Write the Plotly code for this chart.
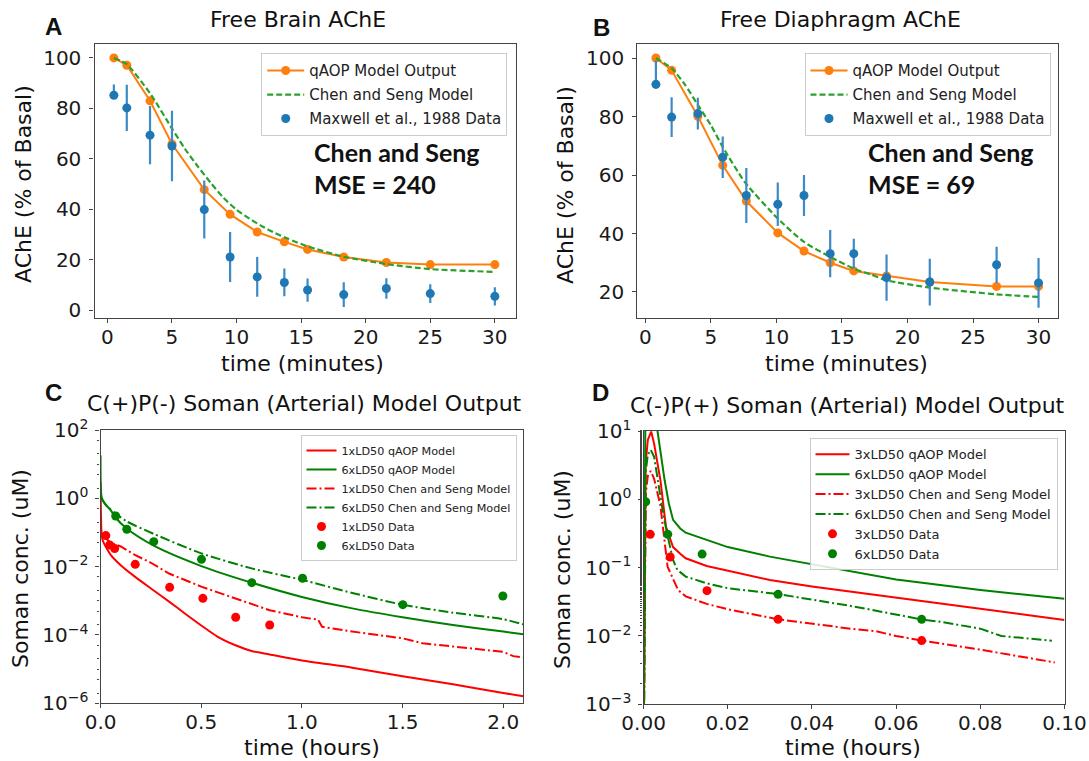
import plotly.graph_objects as go

# ---------------- Panel A : Free Brain AChE ----------------
timeA = [0.5, 1.5, 3.3, 5.0, 7.5, 9.5, 11.6, 13.7, 15.5, 18.3, 21.6, 25.0, 30.0]
qaopA = [100, 97.1, 83.0, 65.9, 47.8, 38.0, 31.0, 27.1, 24.1, 21.1, 18.9, 18.1, 18.1]
dataA = [85.2, 80.2, 69.4, 65.1, 39.9, 21.1, 13.2, 11.0, 8.0, 6.2, 8.6, 6.6, 5.5]
errA_up = [4.3, 9.2, 11.5, 14.0, 11.5, 9.9, 7.9, 5.5, 4.6, 4.9, 4.1, 3.7, 3.6]
errA_dn = [1.2, 9.2, 11.5, 14.0, 11.5, 9.9, 7.9, 5.5, 4.6, 4.9, 4.1, 3.7, 3.6]
chenA_t = [0.5, 1.5, 3.3, 5.0, 6.0, 7.0, 8.0, 9.0, 10.0, 11.0, 12.0, 13.0, 14.0, 15.5, 18.3, 21.6, 25.0, 30.0]
chenA = [100, 97.5, 86, 72, 64, 57, 50.5, 44.5, 39.8, 36.3, 33.2, 30.5, 28.3, 25.3, 21.2, 18.3, 16.3, 15.2]

# ---------------- Panel B : Free Diaphragm AChE ----------------
timeB = [0.8, 2.0, 4.0, 5.9, 7.7, 10.1, 12.1, 14.1, 15.9, 18.4, 21.7, 26.8, 30.0]
qaopB = [100, 95.8, 80.1, 63.3, 51.1, 40.2, 34.0, 30.0, 27.2, 25.5, 23.4, 21.9, 21.9]
dataB = [91.0, 79.8, 81.0, 66.1, 53.0, 50.0, 53.0, 33.1, 33.1, 24.9, 23.4, 29.3, 23.1]
errB_up = [8.2, 6.8, 5.4, 7.1, 9.4, 7.4, 7.0, 8.1, 5.1, 7.9, 8.0, 6.2, 8.5]
errB_dn = [1.5, 6.8, 5.4, 7.1, 9.4, 7.4, 7.0, 8.1, 5.1, 7.9, 8.0, 6.2, 8.5]
chenB_t = [0.8, 2.0, 3.0, 4.0, 5.0, 5.9, 7.6, 10.1, 12.1, 14.1, 15.9, 17.2, 18.4, 21.7, 26.8, 30.0]
chenB = [100, 96.5, 91, 84, 77, 69.6, 57.5, 45.1, 37.1, 32.0, 28.0, 26.0, 24.0, 21.5, 19.2, 18.3]

# ---------------- Panel C : C(+)P(-) Soman ----------------
c_q6_t = [0, 0.005, 0.02, 0.05, 0.075, 0.13, 0.264, 0.5, 0.75, 1.0, 1.25, 1.5, 1.75, 2.0, 2.1]
c_q6 = [18, 1.1, 0.71, 0.45, 0.27, 0.13, 0.041, 0.0104, 0.0034, 0.0013, 0.0006, 0.00033, 0.000195, 0.000126, 0.000105]
c_c6_t = [0.003, 0.03, 0.075, 0.13, 0.264, 0.5, 0.75, 1.0, 1.25, 1.5, 1.75, 2.0, 2.1]
c_c6 = [1.0, 0.6, 0.36, 0.21, 0.091, 0.0245, 0.0089, 0.0041, 0.0017, 0.00077, 0.00045, 0.00029, 0.000204]
c_q1_t = [0, 0.004, 0.01, 0.05, 0.1, 0.17, 0.25, 0.34, 0.42, 0.5, 0.58, 0.67, 0.75, 0.84, 1.0, 1.25, 1.5, 1.75, 2.0, 2.1]
c_q1 = [3.0, 0.12, 0.06, 0.022, 0.011, 0.0051, 0.0023, 0.00095, 0.00042, 0.00019, 9e-5, 5e-5, 3.4e-5, 2.7e-5, 1.8e-5, 1.1e-5, 6.2e-6, 3.6e-6, 2.0e-6, 1.6e-6]
c_c1_t = [0.01, 0.05, 0.1, 0.17, 0.25, 0.34, 0.5, 0.67, 0.84, 1.0, 1.08, 1.1, 1.25, 1.5, 1.6, 1.75, 2.0, 2.05, 2.1]
c_c1 = [0.08, 0.05, 0.039, 0.022, 0.013, 0.0063, 0.0026, 0.00117, 0.00053, 0.00033, 0.00028, 0.000174, 0.000126, 8e-5, 5.7e-5, 4.6e-5, 3.2e-5, 2.4e-5, 2.2e-5]
c_d1_t = [0.026, 0.045, 0.070, 0.172, 0.343, 0.508, 0.671, 0.840]
c_d1 = [0.081, 0.043, 0.034, 0.0117, 0.00248, 0.00118, 0.00033, 0.000196]
c_d6_t = [0.075, 0.130, 0.264, 0.501, 0.751, 1.003, 1.501, 1.998]
c_d6 = [0.304, 0.124, 0.054, 0.0164, 0.0034, 0.00456, 0.00077, 0.00138]

# ---------------- Panel D : C(-)P(+) Soman ----------------
d_q3_t = [0, 0.0005, 0.001, 0.0018, 0.0025, 0.004, 0.0053, 0.007, 0.0087, 0.01, 0.015, 0.02, 0.03, 0.04, 0.06, 0.08, 0.1]
d_q3 = [1e-4, 3.4, 7.4, 9.8, 6.5, 1.9, 0.4, 0.2, 0.16, 0.137, 0.106, 0.09, 0.066, 0.053, 0.036, 0.025, 0.0171]
d_q6_t = [0, 0.0004, 0.002, 0.0033, 0.005, 0.006, 0.007, 0.0087, 0.01, 0.015, 0.02, 0.03, 0.04, 0.06, 0.08, 0.1]
d_q6 = [1e-4, 10, 30, 10, 1.9, 0.87, 0.5, 0.375, 0.325, 0.254, 0.2, 0.145, 0.112, 0.067, 0.047, 0.035]
d_c3_t = [0, 0.0005, 0.001, 0.0017, 0.0025, 0.004, 0.0057, 0.0082, 0.01, 0.015, 0.02, 0.032, 0.05, 0.055, 0.06, 0.066, 0.08, 0.0977]
d_c3 = [1e-4, 1.2, 2.2, 2.6, 2.0, 0.8, 0.103, 0.047, 0.038, 0.0295, 0.0246, 0.0175, 0.0126, 0.0118, 0.0100, 0.0086, 0.0063, 0.0041]
d_c6_t = [0, 0.0005, 0.001, 0.0017, 0.0025, 0.0045, 0.0057, 0.007, 0.008, 0.01, 0.015, 0.02, 0.032, 0.05, 0.066, 0.07, 0.08, 0.085, 0.097]
d_c6 = [1e-4, 2.5, 4.5, 5.3, 4.2, 0.7, 0.29, 0.13, 0.093, 0.074, 0.059, 0.05, 0.041, 0.027, 0.0175, 0.0163, 0.0128, 0.01, 0.0085]
d_d3_t = [0.00158, 0.00632, 0.01506, 0.03195, 0.06606]
d_d3 = [0.307, 0.143, 0.046, 0.0175, 0.00855]
d_d6_t = [0.0005, 0.00574, 0.0139, 0.03195, 0.06606]
d_d6 = [0.92, 0.307, 0.158, 0.0407, 0.0175]

logC_ticks = [1e-6, 1e-4, 1e-2, 1, 1e2]
logC_text = ["10<sup>\u22126</sup>", "10<sup>\u22124</sup>", "10<sup>\u22122</sup>", "10<sup>0</sup>", "10<sup>2</sup>"]
logD_ticks = [1e-3, 1e-2, 1e-1, 1, 10]
logD_text = ["10<sup>\u22123</sup>", "10<sup>\u22122</sup>", "10<sup>\u22121</sup>", "10<sup>0</sup>", "10<sup>1</sup>"]

ORANGE = "#ff7f0e"
GREEN_T = "#2ca02c"
BLUE = "#1f77b4"
RED = "#ff0000"
GREEN = "#008000"
FONT = "DejaVu Sans"
W, H = 1089, 761


def px(x):
    return x / W


def py(y):
    return 1 - y / H


fig = go.Figure()

# Panel A
fig.add_trace(go.Scatter(x=timeA, y=qaopA, mode="lines+markers", name="qAOP Model Output",
                         line=dict(color=ORANGE, width=2), marker=dict(color=ORANGE, size=9),
                         xaxis="x", yaxis="y", legend="legend", legendgroup="a1"))
fig.add_trace(go.Scatter(x=chenA_t, y=chenA, mode="lines", name="Chen and Seng Model",
                         line=dict(color=GREEN_T, width=2.2, dash="6px,3px", shape="spline", smoothing=0.6),
                         xaxis="x", yaxis="y", legend="legend", legendgroup="a2"))
fig.add_trace(go.Scatter(x=timeA, y=dataA, mode="markers", name="Maxwell et al., 1988 Data",
                         marker=dict(color=BLUE, size=9),
                         error_y=dict(type="data", symmetric=False, array=errA_up, arrayminus=errA_dn,
                                      width=0, thickness=2.2, color="#3d8ac6"),
                         xaxis="x", yaxis="y", legend="legend", legendgroup="a3"))

# Panel B
fig.add_trace(go.Scatter(x=timeB, y=qaopB, mode="lines+markers", name="qAOP Model Output",
                         line=dict(color=ORANGE, width=2), marker=dict(color=ORANGE, size=9),
                         xaxis="x2", yaxis="y2", legend="legend2", legendgroup="b1"))
fig.add_trace(go.Scatter(x=chenB_t, y=chenB, mode="lines", name="Chen and Seng Model",
                         line=dict(color=GREEN_T, width=2.2, dash="6px,3px", shape="spline", smoothing=0.6),
                         xaxis="x2", yaxis="y2", legend="legend2", legendgroup="b2"))
fig.add_trace(go.Scatter(x=timeB, y=dataB, mode="markers", name="Maxwell et al., 1988 Data",
                         marker=dict(color=BLUE, size=9),
                         error_y=dict(type="data", symmetric=False, array=errB_up, arrayminus=errB_dn,
                                      width=0, thickness=2.2, color="#3d8ac6"),
                         xaxis="x2", yaxis="y2", legend="legend2", legendgroup="b3"))

# Panel C
DD = "10px,3px,2px,3px"
fig.add_trace(go.Scatter(x=c_q1_t, y=c_q1, mode="lines", name="1xLD50 qAOP Model",
                         line=dict(color=RED, width=2, shape="spline", smoothing=0.7),
                         xaxis="x3", yaxis="y3", legend="legend3"))
fig.add_trace(go.Scatter(x=c_q6_t, y=c_q6, mode="lines", name="6xLD50 qAOP Model",
                         line=dict(color=GREEN, width=2, shape="spline", smoothing=0.7),
                         xaxis="x3", yaxis="y3", legend="legend3"))
fig.add_trace(go.Scatter(x=c_c1_t, y=c_c1, mode="lines", name="1xLD50 Chen and Seng Model",
                         line=dict(color=RED, width=2, dash=DD), xaxis="x3", yaxis="y3", legend="legend3"))
fig.add_trace(go.Scatter(x=c_c6_t, y=c_c6, mode="lines", name="6xLD50 Chen and Seng Model",
                         line=dict(color=GREEN, width=2, dash=DD, shape="spline", smoothing=0.7),
                         xaxis="x3", yaxis="y3", legend="legend3"))
fig.add_trace(go.Scatter(x=c_d1_t, y=c_d1, mode="markers", name="1xLD50 Data",
                         marker=dict(color=RED, size=9), xaxis="x3", yaxis="y3", legend="legend3"))
fig.add_trace(go.Scatter(x=c_d6_t, y=c_d6, mode="markers", name="6xLD50 Data",
                         marker=dict(color=GREEN, size=9), xaxis="x3", yaxis="y3", legend="legend3"))

# Panel D
fig.add_trace(go.Scatter(x=d_q3_t, y=d_q3, mode="lines", name="3xLD50 qAOP Model",
                         line=dict(color=RED, width=2), xaxis="x4", yaxis="y4", legend="legend4"))
fig.add_trace(go.Scatter(x=d_q6_t, y=d_q6, mode="lines", name="6xLD50 qAOP Model",
                         line=dict(color=GREEN, width=2), xaxis="x4", yaxis="y4", legend="legend4"))
fig.add_trace(go.Scatter(x=d_c3_t, y=d_c3, mode="lines", name="3xLD50 Chen and Seng Model",
                         line=dict(color=RED, width=2, dash=DD), xaxis="x4", yaxis="y4", legend="legend4"))
fig.add_trace(go.Scatter(x=d_c6_t, y=d_c6, mode="lines", name="6xLD50 Chen and Seng Model",
                         line=dict(color=GREEN, width=2, dash=DD), xaxis="x4", yaxis="y4", legend="legend4"))
fig.add_trace(go.Scatter(x=d_d3_t, y=d_d3, mode="markers", name="3xLD50 Data",
                         marker=dict(color=RED, size=9), xaxis="x4", yaxis="y4", legend="legend4"))
fig.add_trace(go.Scatter(x=d_d6_t, y=d_d6, mode="markers", name="6xLD50 Data",
                         marker=dict(color=GREEN, size=9), xaxis="x4", yaxis="y4", legend="legend4"))

TICKFONT = dict(family=FONT, size=20, color="#1a1a1a")


def axis(domain, anchor, **kw):
    d = dict(domain=domain, anchor=anchor, showline=True, mirror=True, linecolor="#444",
             linewidth=1.3, ticks="outside", ticklen=4, tickwidth=1.2, tickcolor="#444",
             showgrid=False, zeroline=False, tickfont=TICKFONT, automargin=False)
    d.update(kw)
    return d


yA_dom = [py(318.3), py(44.3)]
yC_dom = [py(703.3), py(430)]
yD_dom = [py(704.3), py(431)]

fig.update_layout(
    width=W, height=H, margin=dict(l=0, r=0, t=0, b=0),
    paper_bgcolor="white", plot_bgcolor="white", showlegend=True,
    xaxis=axis([px(94.5), px(515.5)], "y", range=[-1.0, 31.6], tickvals=[0, 5, 10, 15, 20, 25, 30],
               ticklabelstandoff=-3),
    yaxis=axis(yA_dom, "x", range=[-3.2, 105.4], tickvals=[0, 20, 40, 60, 80, 100], ticklabelstandoff=4),
    xaxis2=axis([px(637.3), px(1058.2)], "y2", range=[-0.62, 31.5], tickvals=[0, 5, 10, 15, 20, 25, 30],
                ticklabelstandoff=-3),
    yaxis2=axis(yA_dom, "x2", range=[11.0, 104.7], tickvals=[20, 40, 60, 80, 100], ticklabelstandoff=4),
    xaxis3=axis([px(100.6), px(523.4)], "y3", range=[0, 2.1], tickvals=[0, 0.5, 1.0, 1.5, 2.0], tickformat=".1f",
                ticklabelstandoff=-3),
    yaxis3=axis(yC_dom, "x3", type="log", range=[-6, 2], tickvals=logC_ticks, ticktext=logC_text,
                ticklabelstandoff=3, minor=dict(ticks="outside", ticklen=2.5, tickcolor="#444", showgrid=False)),
    xaxis4=axis([px(643.6), px(1064.5)], "y4", range=[0, 0.1], tickvals=[0, 0.02, 0.04, 0.06, 0.08, 0.10],
                tickformat=".2f", ticklabelstandoff=-3),
    yaxis4=axis(yD_dom, "x4", type="log", range=[-3, 1], tickvals=logD_ticks, ticktext=logD_text,
                ticklabelstandoff=3, minor=dict(ticks="outside", ticklen=2.5, tickcolor="#444", showgrid=False)),
)

LEG = dict(bgcolor="rgba(255,255,255,0.85)", bordercolor="#cccccc", borderwidth=1,
           xanchor="right", yanchor="top")
fig.update_layout(
    legend=dict(LEG, x=px(507.2), y=py(53.3), font=dict(family=FONT, size=15, color="#222"),
                traceorder="grouped", tracegroupgap=1.5, itemwidth=37),
    legend2=dict(LEG, x=px(1050.5), y=py(53.3), font=dict(family=FONT, size=15, color="#222"),
                 traceorder="grouped", tracegroupgap=1.5, itemwidth=37),
    legend3=dict(LEG, x=px(516.5), y=py(435), font=dict(family=FONT, size=11.2, color="#222"), itemwidth=30),
    legend4=dict(LEG, x=px(1057.5), y=py(438.3), font=dict(family=FONT, size=13, color="#222"), itemwidth=34),
)

annots = []


def txt(x, y, s, size, xanchor="center", bold=False, family=FONT, angle=0):
    annots.append(dict(x=px(x), y=py(y), xref="paper", yref="paper", text=("<b>%s</b>" % s) if bold else s,
                       showarrow=False, xanchor=xanchor, yanchor="middle", textangle=angle,
                       font=dict(family=family, size=size, color="#111")))


# titles
txt(297.5, 19, "Free Brain AChE", 22)
txt(840, 20, "Free Diaphragm AChE", 22)
txt(304.5, 403, "C(+)P(-) Soman (Arterial) Model Output", 22)
txt(847, 405, "C(-)P(+) Soman (Arterial) Model Output", 22)
# panel letters
txt(53.4, 26.7, "A", 24, bold=True, family="Liberation Sans")
txt(601, 27, "B", 24, bold=True, family="Liberation Sans")
txt(53.4, 392.5, "C", 24, bold=True, family="Liberation Sans")
txt(600.4, 392.5, "D", 24, bold=True, family="Liberation Sans")
# axis titles
txt(302.7, 363, "time (minutes)", 22)
txt(846, 363, "time (minutes)", 22)
txt(311.6, 747, "time (hours)", 22)
txt(853, 747, "time (hours)", 22)
txt(23, 184, "AChE (% of Basal)", 22, angle=-90)
txt(566, 185, "AChE (% of Basal)", 22, angle=-90)
txt(20, 569, "Soman conc. (uM)", 22, angle=-90)
txt(562, 570, "Soman conc. (uM)", 22, angle=-90)
# MSE annotations
txt(311.6, 152, "Chen and Seng", 25, xanchor="left", bold=True, family="Lato")
txt(311.6, 184, "MSE = 240", 25, xanchor="left", bold=True, family="Lato")
txt(865.6, 152, "Chen and Seng", 25, xanchor="left", bold=True, family="Lato")
txt(865.6, 184, "MSE = 69", 25, xanchor="left", bold=True, family="Lato")

fig.update_layout(annotations=annots)

fig.write_html("out.html", config={"displayModeBar": False},
               post_script="document.body.style.margin='0';document.body.style.overflow='hidden';")
